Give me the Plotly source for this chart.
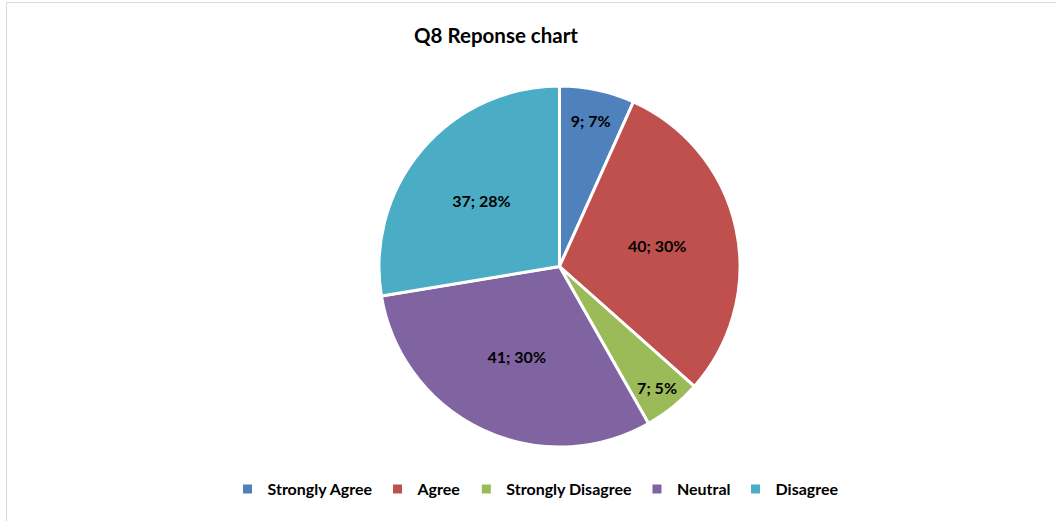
import plotly.graph_objects as go

categories = ["Strongly Agree", "Agree", "Strongly Disagree", "Neutral", "Disagree"]
counts = [9, 40, 7, 41, 37]
percent_labels = ["7%", "30%", "5%", "30%", "28%"]
colors = ["#4F81BD", "#C0504D", "#9BBB59", "#8064A2", "#4BACC6"]

W, H = 1056, 521
FONT = "Lato, Carlito, Calibri, sans-serif"

fig = go.Figure(go.Pie(
    labels=categories,
    values=counts,
    customdata=percent_labels,
    texttemplate="<b>%{value}; %{customdata}</b>",
    textposition="inside",
    insidetextorientation="horizontal",
    textfont=dict(family=FONT, size=16, color="#000000"),
    marker=dict(colors=colors, line=dict(color="#FFFFFF", width=3)),
    sort=False,
    direction="clockwise",
    rotation=0,
    domain=dict(x=[379 / W, 740 / W], y=[1 - 447 / H, 1 - 86 / H]),
    hoverinfo="label+value+percent",
))

fig.update_layout(
    width=W, height=H,
    margin=dict(l=0, r=0, t=0, b=0),
    paper_bgcolor="#FFFFFF",
    plot_bgcolor="#FFFFFF",
    title=dict(
        text="<b>Q8 Reponse chart</b>",
        x=496 / W, xanchor="center",
        y=1 - 36 / H, yanchor="middle",
        font=dict(family=FONT, size=20.5, color="#000000"),
    ),
    showlegend=True,
    legend=dict(
        orientation="h",
        x=536 / W, xanchor="center",
        y=1 - 489 / H, yanchor="middle",
        font=dict(family=FONT, size=16, color="#000000", weight="bold"),
        itemwidth=30,
        traceorder="normal",
    ),
    shapes=[
        dict(type="line", xref="paper", yref="paper",
             x0=6.5 / W, x1=1.0, y0=1 - 2.5 / H, y1=1 - 2.5 / H,
             line=dict(color="#D9D9D9", width=1)),
        dict(type="line", xref="paper", yref="paper",
             x0=6.5 / W, x1=6.5 / W, y0=0, y1=1 - 2.5 / H,
             line=dict(color="#D9D9D9", width=1)),
    ],
)

fig.write_html("out.html")
